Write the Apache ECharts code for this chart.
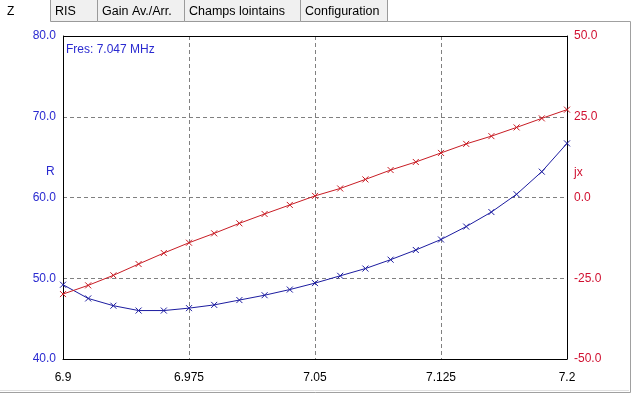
<!DOCTYPE html>
<html>
<head>
<meta charset="utf-8">
<script src="https://cdn.jsdelivr.net/npm/echarts@6/dist/echarts.min.js"></script>
<style>
html,body{margin:0;padding:0;background:#fff;}
#chart{width:632px;height:395px;}
</style>
</head>
<body>
<div id="chart"></div>
<script>
const freqs = [6.9, 6.915, 6.93, 6.945, 6.96, 6.975, 6.99, 7.005, 7.02, 7.035, 7.05, 7.065, 7.08, 7.095, 7.11, 7.125, 7.14, 7.155, 7.17, 7.185, 7.2];
const rValues = [49.2, 47.5, 46.6, 46.0, 46.0, 46.3, 46.7, 47.3, 47.9, 48.6, 49.4, 50.3, 51.2, 52.3, 53.5, 54.8, 56.4, 58.2, 60.4, 63.2, 66.7];
const jxValues = [-29.9, -27.2, -24.1, -20.6, -17.2, -14.0, -11.1, -8.0, -5.1, -2.3, 0.5, 2.8, 5.6, 8.5, 11.0, 13.8, 16.6, 19.0, 21.7, 24.5, 27.2];
const xTickLabels = ['6.9', '6.975', '7.05', '7.125', '7.2'];
const tabLabels = ['RIS', 'Gain Av./Arr.', 'Champs lointains', 'Configuration'];
const fresText = 'Fres: 7.047 MHz';

const BLUE = '#1c1ca0';
const RED = '#c81c24';
const LBLUE = '#2a2ad0';
const LRED = '#d01030';
const FONT = '"Liberation Sans", Arial, sans-serif';
const crossPath = 'path://M0,0L10,10M10,0L0,10';

const chart = echarts.init(document.getElementById('chart'), null, {renderer: 'canvas'});

// tabs
const tabX = [50, 97, 184, 300, 387];
const tabGraphics = [];
tabLabels.forEach((t, i) => {
  tabGraphics.push({
    type: 'rect', shape: {x: tabX[i] + 0.5, y: -1, width: tabX[i+1] - tabX[i], height: 22.5},
    style: {fill: '#f0f0f0', stroke: '#9a9a9a', lineWidth: 1}, silent: true
  });
  tabGraphics.push({
    type: 'text', x: tabX[i] + 5, y: 5,
    style: {text: t, fill: '#000', font: '12.5px ' + FONT}, silent: true
  });
});

const option = {
  backgroundColor: '#fff',
  animation: false,
  grid: {left: 63, right: 65, top: 36, bottom: 36, show: false},
  xAxis: {
    type: 'value', min: 6.9, max: 7.2, interval: 0.075,
    axisLine: {show: true, onZero: false, lineStyle: {color: '#000', width: 1}},
    axisTick: {show: false},
    axisLabel: {
      color: '#000', fontFamily: FONT, fontSize: 12, margin: 13,
      formatter: function (v) {
        const idx = Math.round((v - 6.9) / 0.075);
        return xTickLabels[idx] !== undefined ? xTickLabels[idx] : '';
      }
    },
    splitLine: {show: true, lineStyle: {color: '#808080', type: [4, 3], width: 1}}
  },
  yAxis: [
    {
      type: 'value', min: 40, max: 80, interval: 10, position: 'left',
      axisLine: {show: true, lineStyle: {color: '#000'}},
      axisTick: {show: false},
      axisLabel: {color: LBLUE, fontFamily: FONT, fontSize: 12, margin: 7,
        formatter: v => v.toFixed(1)},
      splitLine: {show: true, lineStyle: {color: '#808080', type: [4, 3], width: 1}}
    },
    {
      type: 'value', min: -50, max: 50, interval: 25, position: 'right',
      axisLine: {show: true, lineStyle: {color: '#000'}},
      axisTick: {show: false},
      axisLabel: {color: LRED, fontFamily: FONT, fontSize: 12, margin: 7,
        formatter: v => v.toFixed(1)},
      splitLine: {show: false}
    }
  ],
  series: [
    {
      type: 'line', yAxisIndex: 0,
      data: freqs.map((f, i) => [f, rValues[i]]),
      symbol: crossPath, symbolSize: 6, showSymbol: true,
      lineStyle: {color: BLUE, width: 1},
      itemStyle: {color: 'rgba(0,0,0,0)', borderColor: BLUE, borderWidth: 1},
      z: 3
    },
    {
      type: 'line', yAxisIndex: 1,
      data: freqs.map((f, i) => [f, jxValues[i]]),
      symbol: crossPath, symbolSize: 6, showSymbol: true,
      lineStyle: {color: RED, width: 1},
      itemStyle: {color: 'rgba(0,0,0,0)', borderColor: RED, borderWidth: 1},
      z: 3
    }
  ],
  graphic: [
    {type: 'line', shape: {x1: 63, y1: 36.5, x2: 567, y2: 36.5}, style: {stroke: '#000', lineWidth: 1}, silent: true, z: 10},
    {type: 'polyline', shape: {points: [[387, 21.5], [630.5, 21.5], [630.5, 392.5], [0, 392.5]]}, style: {stroke: '#a0a0a0', fill: null, lineWidth: 1}, silent: true},
    {type: 'line', shape: {x1: 0, y1: 390.5, x2: 629, y2: 390.5}, style: {stroke: '#e0e0e0', lineWidth: 1}, silent: true},
    ...tabGraphics,
    {type: 'text', x: 7, y: 6, style: {text: 'Z', fill: '#000', font: '12px ' + FONT}, silent: true},
    {type: 'text', x: 46, y: 166, style: {text: 'R', fill: LBLUE, font: '12px ' + FONT}, silent: true},
    {type: 'text', x: 574, y: 167, style: {text: 'jx', fill: LRED, font: '12px ' + FONT}, silent: true},
    {type: 'text', x: 66, y: 44, style: {text: fresText, fill: LBLUE, font: '12px ' + FONT}, silent: true, z: 10}
  ]
};
chart.setOption(option);
</script>
</body>
</html>
